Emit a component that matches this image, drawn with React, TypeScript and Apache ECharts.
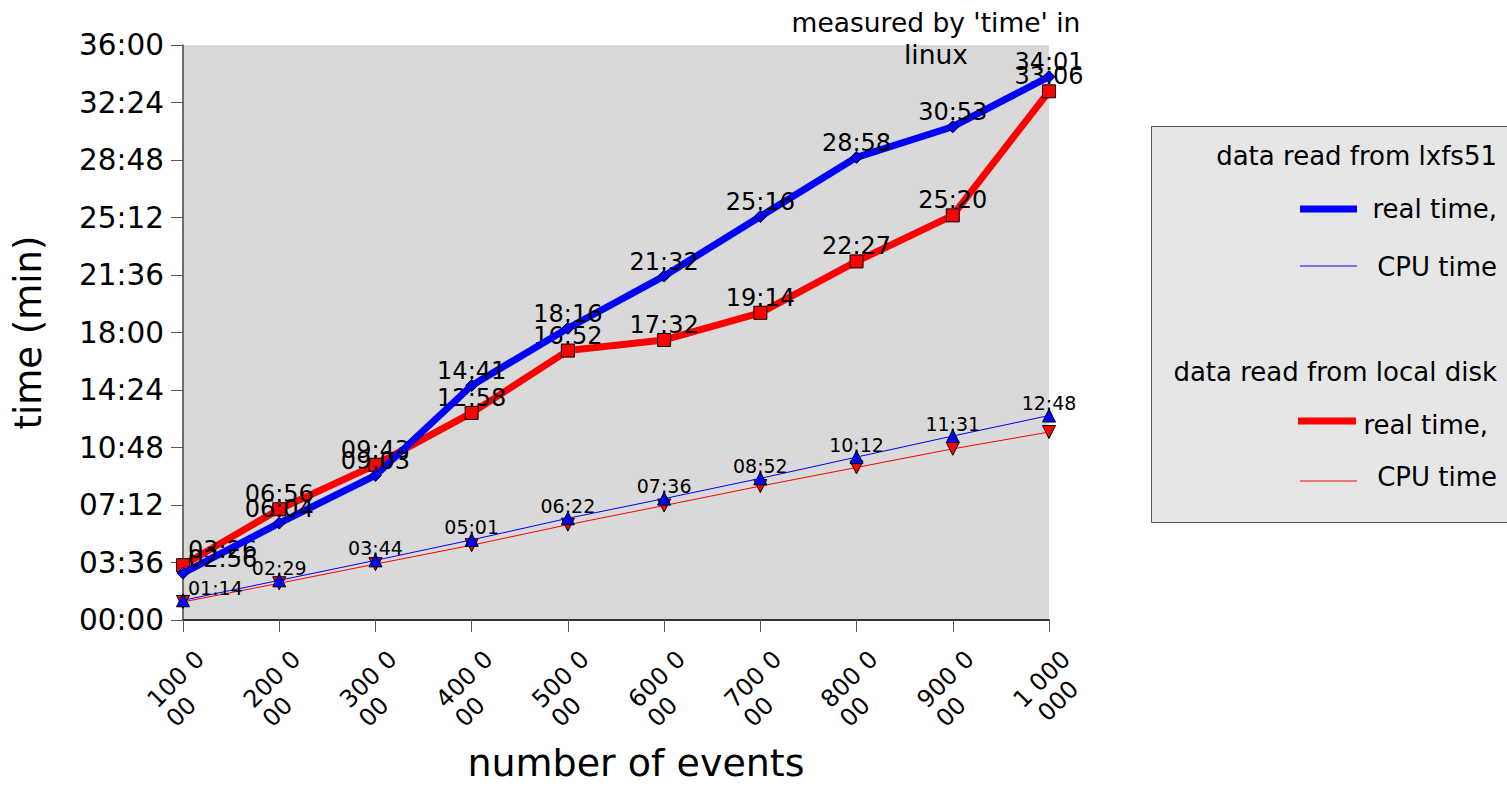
import React, { useEffect, useRef } from "react";
import * as echarts from "echarts";

const xTickLabels = ["100 000", "200 000", "300 000", "400 000", "500 000", "600 000", "700 000", "800 000", "900 000", "1 000 000"];
const lxfs51RealTime = ["02:56", "06:04", "09:03", "14:41", "18:16", "21:32", "25:16", "28:58", "30:53", "34:01"];
const lxfs51CpuTime = ["01:14", "02:29", "03:44", "05:01", "06:22", "07:36", "08:52", "10:12", "11:31", "12:48"];
const localRealTime = ["03:26", "06:56", "09:43", "12:58", "16:52", "17:32", "19:14", "22:27", "25:20", "33:06"];
const localCpuTime = ["01:08", "02:18", "03:30", "04:41", "05:58", "07:10", "08:23", "09:33", "10:43", "11:46"];

const FONT = "DejaVu Sans";

function toSec(s: string): number {
  const [m, sec] = s.split(":").map(Number);
  return m * 60 + sec;
}
function pad(n: number): string {
  return n < 10 ? "0" + n : String(n);
}
function fmt(v: number): string {
  const m = Math.floor(v / 60);
  const s = Math.round(v - m * 60);
  return pad(m) + ":" + pad(s);
}

function makeData(arr: string[], firstOffset: number[] | null) {
  return arr.map((v, i) => {
    const item: any = { value: toSec(v) };
    if (i === 0 && firstOffset) {
      item.label = { align: "left", offset: firstOffset };
    }
    return item;
  });
}

export default function App() {
  const ref = useRef<HTMLDivElement>(null);
  useEffect(() => {
    if (!ref.current) return;
    const chart = echarts.init(ref.current, undefined, { renderer: "svg" });
    const bigLabel = {
      show: true,
      position: "top",
      distance: 0,
      offset: [0, 4],
      fontSize: 24,
      fontFamily: FONT,
      color: "#000",
      formatter: (p: any) => fmt(p.value),
    };
    const smallLabel = {
      show: true,
      position: "top",
      distance: 0,
      offset: [0, 4],
      fontSize: 19,
      fontFamily: FONT,
      color: "#000",
      formatter: (p: any) => fmt(p.value),
    };
    const legendText = (text: string, x: number, y: number) => ({
      type: "text",
      style: { text, x, y, align: "right", verticalAlign: "middle", font: `26px "${FONT}"`, fill: "#000" },
    });
    const legendLine = (x1: number, x2: number, y: number, color: string, w: number) => ({
      type: "line",
      shape: { x1, y1: y, x2, y2: y },
      style: { stroke: color, lineWidth: w },
    });
    chart.setOption({
      animation: false,
      backgroundColor: "#ffffff",
      textStyle: { fontFamily: FONT },
      grid: {
        left: 183,
        top: 45,
        width: 866,
        height: 580,
        show: true,
        backgroundColor: "#d9d9d9",
        borderWidth: 0,
      },
      xAxis: {
        type: "category",
        boundaryGap: false,
        data: xTickLabels,
        name: "number of events",
        nameLocation: "middle",
        nameGap: 124,
        nameTextStyle: { fontSize: 38, color: "#000", fontFamily: FONT, padding: [0, 0, 0, 40] },
        axisLine: { show: true, lineStyle: { color: "#333", width: 2 } },
        axisTick: { show: true, length: 12, lineStyle: { color: "#555", width: 1 } },
        splitLine: { show: false },
        axisLabel: {
          interval: 0,
          rotate: 45,
          verticalAlign: "top",
          margin: 16,
          padding: [12, 0, 0, 0],
          color: "#000",
          formatter: (v: string) => `{a|${v.slice(0, 5)}}\n{a|${v.slice(5)}}`,
          rich: {
            a: { width: 70, align: "left", fontSize: 24, lineHeight: 27, fontFamily: FONT, color: "#000" },
          },
        },
      },
      yAxis: {
        type: "value",
        min: 0,
        max: 2160,
        interval: 216,
        name: "time (min)",
        nameLocation: "middle",
        nameGap: 136,
        nameTextStyle: { fontSize: 37, color: "#000", fontFamily: FONT },
        axisLine: { show: true, lineStyle: { color: "#444", width: 1.5 } },
        axisTick: { show: true, length: 12, lineStyle: { color: "#555", width: 1 } },
        splitLine: { show: false },
        axisLabel: { fontSize: 29.5, color: "#000", margin: 19, fontFamily: FONT, formatter: (v: number) => fmt(v) },
      },
      series: [
        {
          name: "local disk real time",
          type: "line",
          data: makeData(localRealTime, [5, 4]),
          lineStyle: { color: "#ff0000", width: 7 },
          itemStyle: { color: "#ff0000", borderColor: "#000", borderWidth: 1 },
          symbol: "rect",
          symbolSize: 13,
          showAllSymbol: true,
          label: bigLabel,
          z: 2,
        },
        {
          name: "lxfs51 real time",
          type: "line",
          data: makeData(lxfs51RealTime, [5, 4]),
          lineStyle: { color: "#0000ff", width: 7 },
          itemStyle: { color: "#0000ff", borderColor: "#000", borderWidth: 1 },
          symbol: "diamond",
          symbolSize: 12,
          showAllSymbol: true,
          label: bigLabel,
          z: 3,
        },
        {
          name: "local disk CPU time",
          type: "line",
          data: makeData(localCpuTime, null),
          lineStyle: { color: "#ff0000", width: 1 },
          itemStyle: { color: "#ff0000", borderColor: "#000", borderWidth: 1 },
          symbol: "triangle",
          symbolRotate: 180,
          symbolSize: 13,
          showAllSymbol: true,
          label: { show: false },
          z: 4,
        },
        {
          name: "lxfs51 CPU time",
          type: "line",
          data: makeData(lxfs51CpuTime, [5, 4]),
          lineStyle: { color: "#0000ff", width: 1 },
          itemStyle: { color: "#0000ff", borderColor: "#000", borderWidth: 1 },
          symbol: "triangle",
          symbolSize: 13,
          showAllSymbol: true,
          label: smallLabel,
          z: 5,
        },
      ],
      graphic: [
        {
          type: "text",
          style: {
            text: "measured by 'time' in\nlinux",
            x: 936,
            y: 38,
            align: "center",
            verticalAlign: "middle",
            font: `26.5px "${FONT}"`,
            lineHeight: 32,
            fill: "#000",
          },
        },
        {
          type: "rect",
          shape: { x: 1151.5, y: 126.5, width: 360, height: 396 },
          style: { fill: "#e6e6e6", stroke: "#555", lineWidth: 1 },
        },
        legendText("data read from lxfs51", 1497, 156),
        legendLine(1300, 1357, 209, "#0000ff", 7),
        legendText("real time,", 1497, 209),
        legendLine(1300, 1357, 266, "#0000ff", 1),
        legendText("CPU time", 1497, 267),
        legendText("data read from local disk", 1497, 372),
        legendLine(1298, 1356, 421, "#ff0000", 7),
        legendText("real time,", 1488, 425),
        legendLine(1300, 1357, 481, "#ff0000", 1),
        legendText("CPU time", 1497, 477),
      ],
    });
    return () => chart.dispose();
  }, []);
  return <div ref={ref} style={{ position: "fixed", left: 0, top: 0, width: 1507, height: 787 }} />;
}
